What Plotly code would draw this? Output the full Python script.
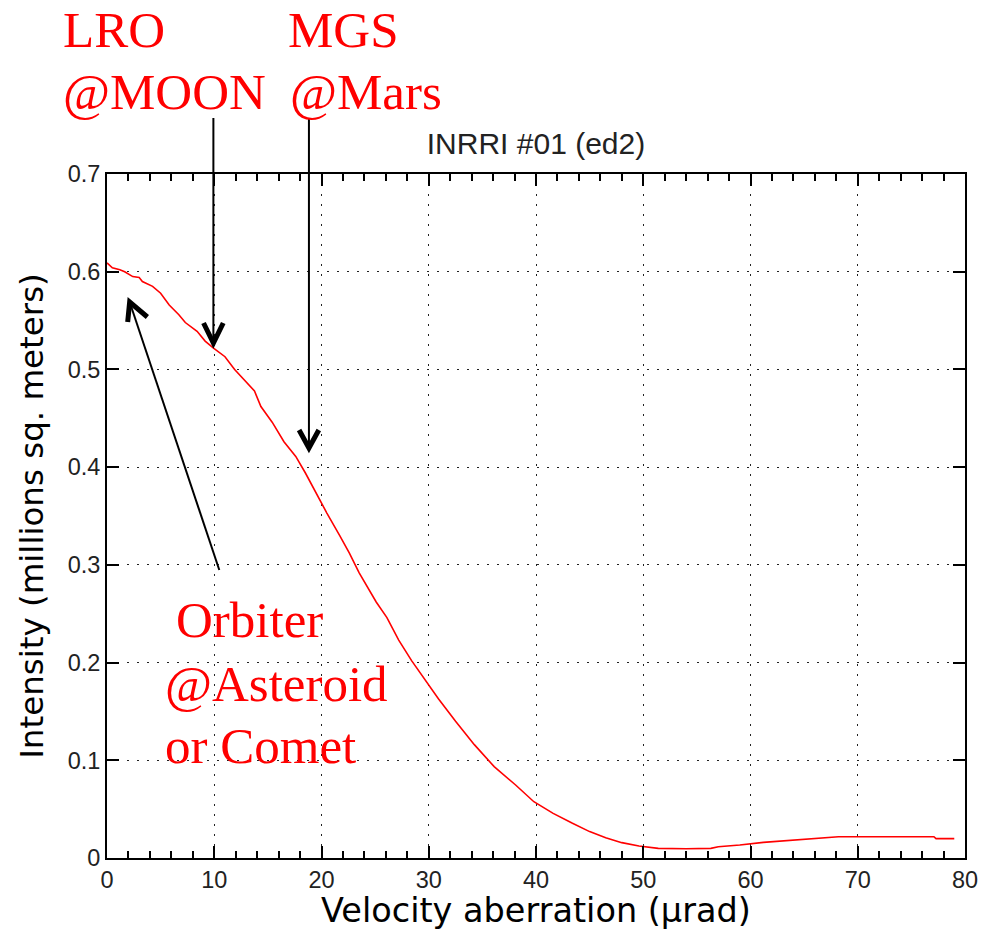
import plotly.graph_objects as go

# ---- data ----
aberration_urad = [0, 0.5, 1.2, 1.65, 2.4, 3.0, 3.3, 4.25, 5.0, 5.8, 6.7, 7.3, 8.4, 9.15, 9.9,
                   11.0, 11.9, 12.8, 13.75, 14.35, 15.4, 16.5, 17.6, 18.5, 19.6, 20.5, 21.7,
                   22.6, 23.5, 25.1, 26.1, 27.2, 28.4, 29.7, 30.9, 32.5, 34.25, 36.1, 38.1,
                   39.8, 41.6, 43.4, 45.0, 46.5, 48.0, 49.6, 51.4, 54.0, 56.3, 57.0, 59.0,
                   61.2, 63.3, 65.8, 68.2, 72.0, 77.1, 77.3, 79.0]
intensity_msqm = [0.609, 0.604, 0.602, 0.600, 0.595, 0.594, 0.590, 0.585, 0.578, 0.566, 0.556,
                  0.548, 0.539, 0.529, 0.522, 0.513, 0.500, 0.489, 0.478, 0.462, 0.446, 0.426,
                  0.411, 0.394, 0.371, 0.353, 0.330, 0.312, 0.292, 0.262, 0.246, 0.223, 0.202,
                  0.182, 0.163, 0.140, 0.116, 0.0935, 0.0747, 0.0576, 0.0457, 0.0355, 0.027,
                  0.0208, 0.0157, 0.0123, 0.0099, 0.0095, 0.0099, 0.0116, 0.0133, 0.016,
                  0.0177, 0.0201, 0.0218, 0.0218, 0.0218, 0.0198, 0.0198]

x_ticks = [0, 10, 20, 30, 40, 50, 60, 70, 80]
y_ticks = [0, 0.1, 0.2, 0.3, 0.4, 0.5, 0.6, 0.7]
y_tick_labels = ["0", "0.1", "0.2", "0.3", "0.4", "0.5", "0.6", "0.7"]

title_text = "INRRI #01 (ed2)"
x_title = "Velocity aberration (\u00b5rad)"
y_title = "Intensity (millions sq. meters)"

# ---- layout geometry (pixels) ----
W, H = 990, 942
L, R, T, B = 107, 12, 174, 84
PW, PH = W - L - R, H - T - B


def px(x):
    return (x - L) / PW


def py(y):
    return (H - B - y) / PH


fig = go.Figure()
fig.add_trace(go.Scatter(x=aberration_urad, y=intensity_msqm, mode="lines",
                         line=dict(color="#ff0000", width=1.6), showlegend=False,
                         hoverinfo="skip"))

axis_common = dict(
    showline=True, linecolor="black", linewidth=2, mirror="ticks",
    ticks="inside", ticklen=12, tickwidth=2, tickcolor="black",
    showgrid=True, gridcolor="#222222", gridwidth=1, griddash="2px,8px",
    zeroline=False, ticklabeloverflow="allow",
    tickfont=dict(family="Liberation Sans, Arial, sans-serif", size=23.5, color="#222222"),
)

fig.update_xaxes(range=[0, 80], tickmode="array", tickvals=x_ticks,
                 minor=dict(dtick=2, ticks="inside", ticklen=7, tickwidth=2,
                            tickcolor="black", showgrid=False),
                 **axis_common)
fig.update_yaxes(range=[0, 0.7], tickmode="array", tickvals=y_ticks, ticktext=y_tick_labels,
                 title=dict(text=y_title, standoff=14,
                            font=dict(family="DejaVu Sans", size=32.5, color="black")),
                 **axis_common)

fig.update_layout(
    width=W, height=H,
    margin=dict(l=L, r=R, t=T, b=B, pad=0),
    paper_bgcolor="white", plot_bgcolor="white",
    title=dict(text=title_text, x=0.5, xref="paper", xanchor="center",
               y=1 - 143 / H, yanchor="middle", yref="container",
               font=dict(family="Liberation Sans, Arial, sans-serif", size=30, color="#222222")),
)

# x-axis title placed as paper annotation (closer to tick labels than standoff allows)
fig.add_annotation(text=x_title, x=0.5, y=py(910), xref="paper", yref="paper",
                   xanchor="center", yanchor="middle", showarrow=False, borderpad=0,
                   font=dict(family="DejaVu Sans", size=33.5, color="black"))

# red annotation texts
red_font = dict(family="Liberation Serif, Times New Roman, serif", size=51, color="#ff0000")
labels = [
    ("LRO", 60, 30), ("@MOON", 60, 92),
    ("MGS", 289, 30), ("@Mars", 291, 92),
    ("Orbiter", 175, 620), ("@Asteroid", 164, 684), ("or Comet", 164, 746),
]
for txt, lx, ly in labels:
    fig.add_annotation(text=txt, x=px(lx), y=py(ly), xref="paper", yref="paper",
                       xanchor="left", yanchor="middle", showarrow=False, font=red_font)

# arrows (stem thin, V-head thick)
arrows = [
    # stem start, tip, left arm end, right arm end
    ((215, 118), (215, 343), (205, 323), (225, 323)),
    ((312, 118), (312, 448), (302, 430), (322, 430)),
    ((221, 570), (130, 302), (128, 322), (148, 317)),
]
for (sx, sy), (tx, ty), (ax1, ay1), (ax2, ay2) in arrows:
    fig.add_shape(type="line", xref="paper", yref="paper",
                  x0=px(sx), y0=py(sy), x1=px(tx), y1=py(ty),
                  line=dict(color="black", width=2))
    fig.add_shape(type="path", xref="paper", yref="paper",
                  path=f"M {px(ax1)} {py(ay1)} L {px(tx)} {py(ty)} L {px(ax2)} {py(ay2)}",
                  line=dict(color="black", width=5))

fig.write_html("out.html")
